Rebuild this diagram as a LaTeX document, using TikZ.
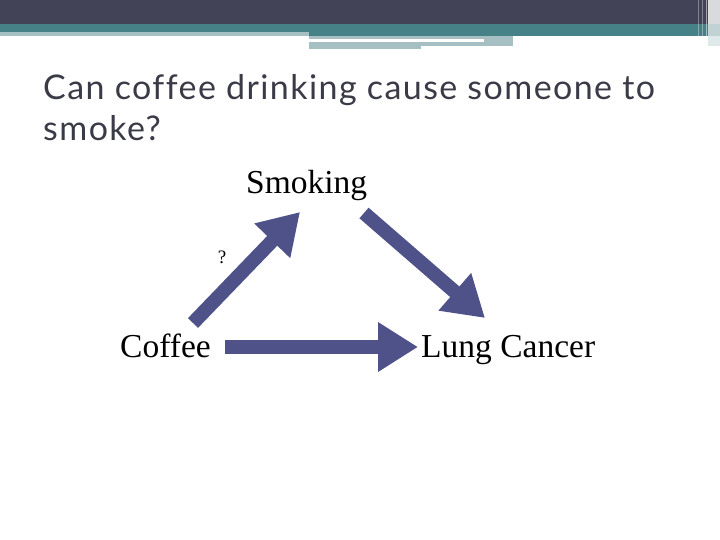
\documentclass[tikz,border=0pt]{standalone}
\usepackage{fontspec}
\setmainfont{Liberation Serif}
\newfontfamily\titlefont[LetterSpace=4.2,Ligatures=NoCommon]{Lato}
\usetikzlibrary{arrows.meta}
\definecolor{topdark}{HTML}{424357}
\definecolor{topteal}{HTML}{468187}
\definecolor{toplight}{HTML}{A5BFC2}
\definecolor{arrowblue}{HTML}{4F5189}
\definecolor{titlegray}{HTML}{3B3B48}
\begin{document}
\begin{tikzpicture}[x=1pt,y=-1pt,
  lbl/.style={inner sep=0pt,anchor=base west,font=\fontsize{33.5}{33.5}\selectfont},
  ttl/.style={anchor=base west,inner sep=0pt,text=titlegray,font=\titlefont\fontsize{34}{34}\selectfont},
  bigarrow/.style={draw=arrowblue,line width=14pt,-{Triangle[length=40pt,width=47pt]}}]
\useasboundingbox (0,0) rectangle (720,540);
\fill[white] (0,0) rectangle (720,540);
% header band
\fill[topdark] (0,0) rectangle (720,24);
\fill[topteal] (0,24) rectangle (720,32);
\fill[topteal] (309,32) rectangle (720,36);
\fill[toplight] (0,32) rectangle (309,36);
\fill[toplight] (309,36) rectangle (513,46);
\fill[white] (309,39) rectangle (484,42);
\fill[toplight] (309,46) rectangle (421,49);
\fill[white!80!topdark] (708,0) rectangle (720,24);
\fill[toplight!70!white] (708,24) rectangle (720,36);
\fill[toplight!35!white] (708,36) rectangle (720,46);
\draw[white,opacity=0.35,line width=1pt] (698,0) -- (698,46);
\draw[white,opacity=0.35,line width=1pt] (702,0) -- (702,46);
\draw[white,opacity=0.5,line width=1pt] (706,0) -- (706,46);
% title
\node[ttl] (t1) at (43,100) {Can coffee drinking cause someone to};
\node[ttl] (t2) at (43,141) {smoke?};
% labels
\node[lbl] (smoking) at (246,194) {Smoking};
\node[lbl] (coffee) at (120,357) {Coffee};
\node[lbl] (lung) at (421,357) {Lung Cancer};
\node[inner sep=0pt,anchor=base,font=\fontsize{19}{19}\selectfont] (q) at (222,263) {?};
% arrow end points
\coordinate (c1s) at (193,323);
\coordinate (c1e) at (300,212);
\coordinate (c2s) at (225,347);
\coordinate (c2e) at (418,347);
\coordinate (c3s) at (364,213);
\coordinate (c3e) at (485,318);
\draw[bigarrow] (c1s) -- (c1e);
\draw[bigarrow] (c2s) -- (c2e);
\draw[bigarrow] (c3s) -- (c3e);
\end{tikzpicture}
\end{document}
